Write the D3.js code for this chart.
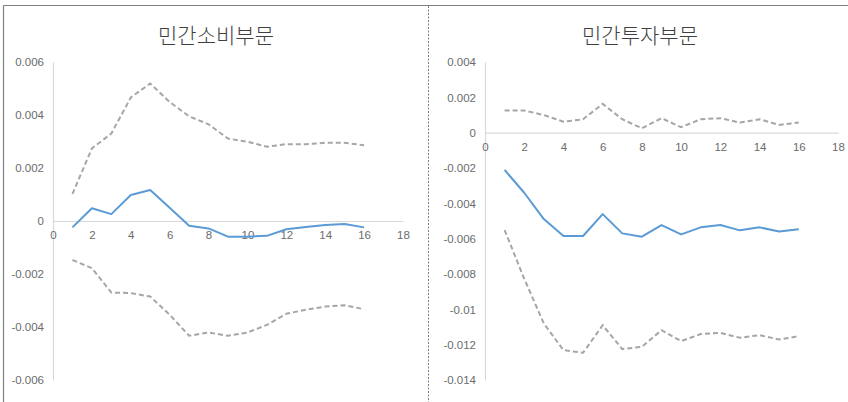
<!DOCTYPE html>
<html>
<head>
<meta charset="utf-8">
<script src="https://cdn.jsdelivr.net/npm/d3@7/dist/d3.min.js"></script>
<style>
  body { margin: 0; background: #fff; }
  svg { display: block; }
  .tick-label { font-family: "Liberation Sans Narrow", "Liberation Sans", sans-serif; font-size: 11.5px; fill: #6b6b6b; }
  .title { font-family: "Noto Sans CJK KR", sans-serif; font-size: 21px; font-weight: 300; fill: #404040; }
</style>
</head>
<body>
<svg id="chart" width="848" height="402"></svg>
<script>
// Response horizon (periods)
const periods = [1, 2, 3, 4, 5, 6, 7, 8, 9, 10, 11, 12, 13, 14, 15, 16];
const xTicks = [0, 2, 4, 6, 8, 10, 12, 14, 16, 18];

// 민간소비부문: impulse response and its upper / lower bands
const consTitle = "민간소비부문";
const consMid   = [-0.00024, 0.00048, 0.00026, 0.00098, 0.00117, 0.00050, -0.00018, -0.00028, -0.00059, -0.00059, -0.00056, -0.00031, -0.00023, -0.00015, -0.00011, -0.00024];
const consUpper = [0.00102, 0.00274, 0.00330, 0.00466, 0.00519, 0.00449, 0.00395, 0.00365, 0.00311, 0.00299, 0.00280, 0.00290, 0.00290, 0.00295, 0.00295, 0.00286];
const consLower = [-0.00147, -0.00178, -0.00270, -0.00272, -0.00285, -0.00354, -0.00433, -0.00421, -0.00433, -0.00421, -0.00392, -0.00350, -0.00335, -0.00323, -0.00318, -0.00333];
const consYTicks = [-0.006, -0.004, -0.002, 0, 0.002, 0.004, 0.006];

// 민간투자부문: impulse response and its upper / lower bands
const invTitle = "민간투자부문";
const invMid   = [-0.00211, -0.00340, -0.00489, -0.00585, -0.00585, -0.00461, -0.00570, -0.00589, -0.00523, -0.00576, -0.00536, -0.00523, -0.00553, -0.00536, -0.00559, -0.00547];
const invUpper = [0.00125, 0.00125, 0.00100, 0.00062, 0.00076, 0.00163, 0.00076, 0.00025, 0.00082, 0.00031, 0.00076, 0.00082, 0.00057, 0.00076, 0.00044, 0.00057];
const invLower = [-0.00551, -0.00827, -0.01080, -0.01231, -0.01246, -0.01090, -0.01225, -0.01212, -0.01118, -0.01180, -0.01140, -0.01133, -0.01161, -0.01146, -0.01171, -0.01152];
const invYTicks = [-0.014, -0.012, -0.01, -0.008, -0.006, -0.004, -0.002, 0, 0.002, 0.004];

const svg = d3.select("#chart");

// Outer frame: top rule, left rule, dotted divider between the panels
svg.append("line").attr("x1", 3.5).attr("x2", 848).attr("y1", 5.5).attr("y2", 5.5)
  .attr("stroke", "#808080").attr("stroke-width", 1.2);
svg.append("line").attr("x1", 3.5).attr("x2", 3.5).attr("y1", 5.5).attr("y2", 402)
  .attr("stroke", "#808080").attr("stroke-width", 1.2);
svg.append("line").attr("x1", 428.5).attr("x2", 428.5).attr("y1", 6).attr("y2", 402)
  .attr("stroke", "#7a7a7a").attr("stroke-width", 1).attr("stroke-dasharray", "2,1.5");

const fmt = v => String(+v.toFixed(3));

function drawPanel(p) {
  const g = svg.append("g");
  const x = d3.scaleLinear().domain([0, 18]).range([p.left, p.right]);
  const y = d3.scaleLinear().domain([p.yTicks[0], p.yTicks[p.yTicks.length - 1]]).range([380, 62]);

  g.append("text").attr("class", "title")
    .attr("x", p.titleX).attr("y", 43).attr("text-anchor", "middle").text(p.title);

  // vertical axis
  const ya = g.append("g").attr("transform", `translate(${p.left},0)`)
    .call(d3.axisLeft(y).tickValues(p.yTicks).tickFormat(fmt).tickSize(0).tickPadding(9));
  ya.select(".domain").attr("stroke", "#d9d9d9").attr("stroke-width", 1.2);
  ya.selectAll("text").attr("class", "tick-label").attr("fill", null);

  // horizontal axis at zero
  const xa = g.append("g").attr("transform", `translate(0,${y(0)})`)
    .call(d3.axisBottom(x).tickValues(xTicks).tickSize(0).tickPadding(10));
  xa.select(".domain").attr("stroke", "#d9d9d9").attr("stroke-width", 1.2);
  xa.selectAll("text").attr("class", "tick-label").attr("fill", null);

  const line = d3.line().x((d, i) => x(periods[i])).y(d => y(d));

  [p.upper, p.lower].forEach(band => {
    g.append("path").datum(band).attr("d", line)
      .attr("fill", "none").attr("stroke", "#a6a6a6").attr("stroke-width", 2)
      .attr("stroke-dasharray", "5,3");
  });
  g.append("path").datum(p.mid).attr("d", line)
    .attr("fill", "none").attr("stroke", "#5b9bd5").attr("stroke-width", 2)
    .attr("stroke-linejoin", "round");
}

drawPanel({ title: consTitle, titleX: 216, left: 53, right: 403, yTicks: consYTicks,
            mid: consMid, upper: consUpper, lower: consLower });
drawPanel({ title: invTitle, titleX: 640, left: 485, right: 838, yTicks: invYTicks,
            mid: invMid, upper: invUpper, lower: invLower });
</script>
</body>
</html>
